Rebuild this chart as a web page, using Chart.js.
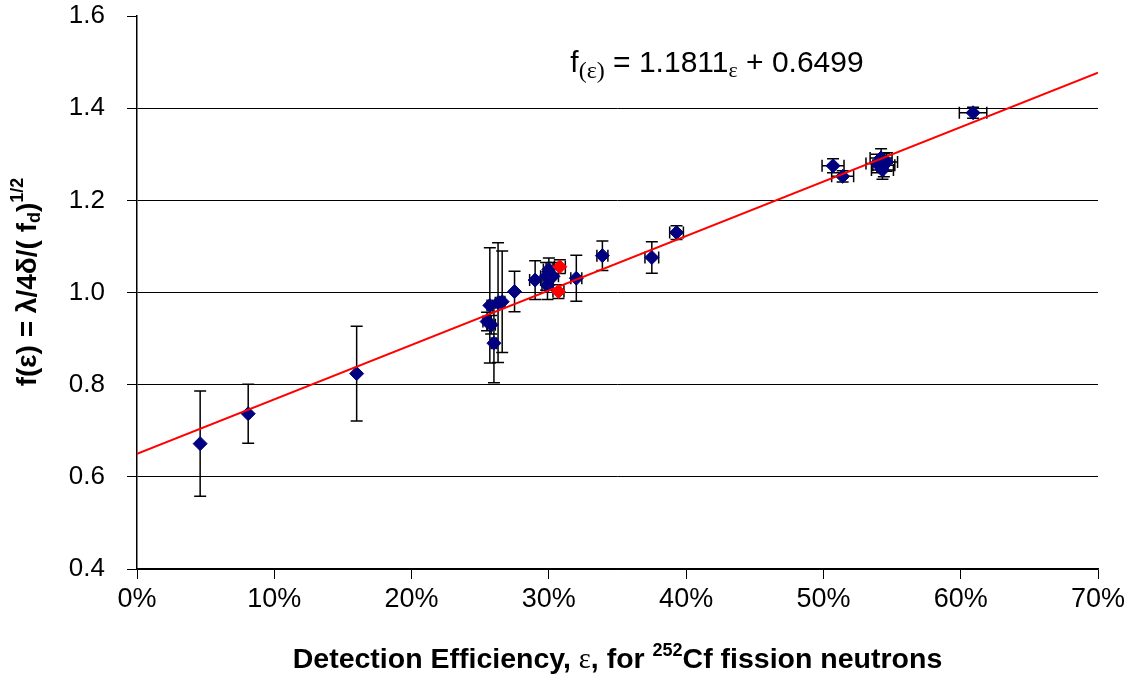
<!DOCTYPE html>
<html>
<head>
<meta charset="utf-8">
<script src="https://cdn.jsdelivr.net/npm/chart.js@4.4.1/dist/chart.umd.min.js"></script>
<style>
  body { margin: 0; background: #fff; }
  canvas { display: block; }
</style>
</head>
<body>
<canvas id="chart" width="1131" height="674"></canvas>
<script>
// efficiency in percent, f(eps) values and error bars
const effBlue = [4.6, 8.1, 16.0, 25.5, 25.8, 25.7, 26.3, 26.6, 26.0, 27.5, 29.0, 30.0, 29.8, 30.3, 29.9, 32.0, 33.9, 37.5, 39.3, 50.7, 51.4, 54.2, 54.3, 53.9, 54.6, 54.4, 60.9];
const fBlue = [0.672, 0.737, 0.824, 0.937, 0.930, 0.972, 0.978, 0.980, 0.890, 1.002, 1.027, 1.050, 1.035, 1.035, 1.015, 1.031, 1.080, 1.076, 1.130, 1.275, 1.252, 1.292, 1.266, 1.280, 1.283, 1.276, 1.390];
const fErrBlue = [0.114, 0.064, 0.103, 0.02, 0.02, 0.125, 0.13, 0.11, 0.086, 0.044, 0.042, 0.025, 0.03, 0.03, 0.03, 0.05, 0.032, 0.034, 0.015, 0.015, 0.012, 0.02, 0.02, 0.02, 0.02, 0.025, 0.012];
const effErrBlue = [0, 0, 0, 0.3, 0.3, 0.2, 0.2, 0.2, 0.2, 0, 0.4, 0.4, 0.4, 0.4, 0.4, 0.4, 0.4, 0.5, 0.5, 0.8, 0.8, 0.8, 0.8, 0.8, 0.8, 0.8, 1.0];

const effRed = [30.8, 30.7];
const fRed = [1.056, 1.002];
const fErrRed = [0.015, 0.015];
const effErrRed = [0.4, 0.4];

const trendX = [0, 70];
const trendY = [0.650, 1.477];

const xTicks = [0, 10, 20, 30, 40, 50, 60, 70];
const yTicks = [0.4, 0.6, 0.8, 1.0, 1.2, 1.4, 1.6];

const FONT = "'Liberation Sans', Arial, sans-serif";

function toPoints(xs, ys) {
    return xs.map((x, i) => ({ x: x, y: ys[i] }));
}

// draws a run of text pieces with their own size / offset
function drawRich(ctx, parts, x, y) {
    let total = 0;
    parts.forEach(p => {
        ctx.font = (p.bold ? 'bold ' : '') + p.size + 'px ' + (p.family || FONT);
        p.w = ctx.measureText(p.t).width;
        total += p.w;
    });
    let cx = x - total / 2;
    parts.forEach(p => {
        ctx.font = (p.bold ? 'bold ' : '') + p.size + 'px ' + (p.family || FONT);
        ctx.fillText(p.t, cx, y + (p.dy || 0));
        cx += p.w;
    });
    return total;
}

const errorBars = {
    id: 'errorBars',
    beforeDatasetsDraw(chart) {
        const ctx = chart.ctx;
        const xs = chart.scales.x, ys = chart.scales.y;
        ctx.save();
        ctx.strokeStyle = '#000';
        ctx.lineWidth = 1.5;
        chart.data.datasets.forEach(ds => {
            if (!ds.yErr) return;
            ds.data.forEach((p, i) => {
                const px = xs.getPixelForValue(p.x);
                const py = ys.getPixelForValue(p.y);
                const ye = ds.yErr[i], xe = ds.xErr[i];
                ctx.beginPath();
                if (ye) {
                    const t = ys.getPixelForValue(p.y + ye), b = ys.getPixelForValue(p.y - ye);
                    ctx.moveTo(px, t); ctx.lineTo(px, b);
                    ctx.moveTo(px - 6, t); ctx.lineTo(px + 6, t);
                    ctx.moveTo(px - 6, b); ctx.lineTo(px + 6, b);
                }
                if (xe) {
                    const l = xs.getPixelForValue(p.x - xe), r = xs.getPixelForValue(p.x + xe);
                    ctx.moveTo(l, py); ctx.lineTo(r, py);
                    ctx.moveTo(l, py - 6); ctx.lineTo(l, py + 6);
                    ctx.moveTo(r, py - 6); ctx.lineTo(r, py + 6);
                }
                ctx.stroke();
            });
        });
        ctx.restore();
    }
};

const labels = {
    id: 'labels',
    afterDraw(chart) {
        const ctx = chart.ctx;
        const area = chart.chartArea;
        ctx.save();
        ctx.fillStyle = '#000';
        ctx.textBaseline = 'alphabetic';
        ctx.textAlign = 'left';

        // x axis title
        drawRich(ctx, [
            { t: 'Detection Efficiency, ', size: 28.5, bold: true },
            { t: 'ε', size: 28.5, family: "'Liberation Serif', serif" },
            { t: ', for ', size: 28.5, bold: true },
            { t: '252', size: 18, bold: true, dy: -12 },
            { t: 'Cf fission neutrons', size: 28.5, bold: true }
        ], (area.left + area.right) / 2, 668);

        // y axis title
        ctx.save();
        ctx.translate(36, 282);
        ctx.rotate(-Math.PI / 2);
        drawRich(ctx, [
            { t: 'f(ε) = λ/4δ/( f', size: 28, bold: true },
            { t: 'd', size: 18, bold: true, dy: 4 },
            { t: ')', size: 28, bold: true },
            { t: '1/2', size: 18, bold: true, dy: -13 }
        ], 0, 0);
        ctx.restore();

        // trend equation
        drawRich(ctx, [
            { t: 'f', size: 30 },
            { t: '(ε)', size: 24, dy: 6, family: "'Liberation Serif', serif" },
            { t: ' = 1.1811', size: 30 },
            { t: 'ε', size: 22, dy: 5, family: "'Liberation Serif', serif" },
            { t: ' + 0.6499', size: 30 }
        ], 717, 72);
        ctx.restore();
    }
};

const ctx = document.getElementById('chart').getContext('2d');
new Chart(ctx, {
    type: 'scatter',
    data: {
        datasets: [{
            label: 'trend',
            type: 'line',
            data: toPoints(trendX, trendY),
            borderColor: '#ff0000',
            borderWidth: 2,
            pointRadius: 0,
            fill: false,
            order: 0
        }, {
            label: 'measured',
            data: toPoints(effBlue, fBlue),
            yErr: fErrBlue,
            xErr: effErrBlue,
            pointStyle: 'rectRot',
            pointRadius: 7,
            backgroundColor: '#000080',
            borderColor: '#000080',
            borderWidth: 1,
            order: 2
        }, {
            label: 'reference',
            data: toPoints(effRed, fRed),
            yErr: fErrRed,
            xErr: effErrRed,
            pointStyle: 'rectRot',
            pointRadius: 7,
            backgroundColor: '#ff0000',
            borderColor: '#ff0000',
            borderWidth: 1,
            order: 1
        }]
    },
    options: {
        responsive: false,
        animation: false,
        layout: { padding: { left: 0, top: 16, right: 33, bottom: 0 } },
        plugins: {
            legend: { display: false },
            tooltip: { enabled: false }
        },
        scales: {
            x: {
                type: 'linear',
                min: 0,
                max: 70,
                afterBuildTicks: axis => { axis.ticks = xTicks.map(v => ({ value: v })); },
                afterFit: axis => { axis.height = 105; axis.paddingLeft = 0; axis.paddingRight = 0; },
                ticks: {
                    callback: v => v + '%',
                    color: '#000',
                    font: { family: FONT, size: 27 },
                    padding: 4,
                    maxRotation: 0
                },
                grid: {
                    drawOnChartArea: false,
                    tickLength: 10,
                    tickColor: '#000',
                    lineWidth: 1
                },
                border: { color: '#000', width: 1.5 }
            },
            y: {
                min: 0.4,
                max: 1.6,
                afterBuildTicks: axis => { axis.ticks = yTicks.map(v => ({ value: v })); },
                afterFit: axis => { axis.width = 137; axis.paddingTop = 0; axis.paddingBottom = 0; },
                ticks: {
                    callback: v => v.toFixed(1),
                    color: '#000',
                    font: { family: FONT, size: 26 },
                    padding: 22
                },
                grid: {
                    color: c => (c.tick && Math.abs(c.tick.value - 1.6) < 1e-6) ? 'rgba(0,0,0,0)' : '#000',
                    tickColor: '#000',
                    tickLength: 10,
                    lineWidth: 1
                },
                border: { color: '#000', width: 1.5 }
            }
        }
    },
    plugins: [errorBars, labels]
});
</script>
</body>
</html>
